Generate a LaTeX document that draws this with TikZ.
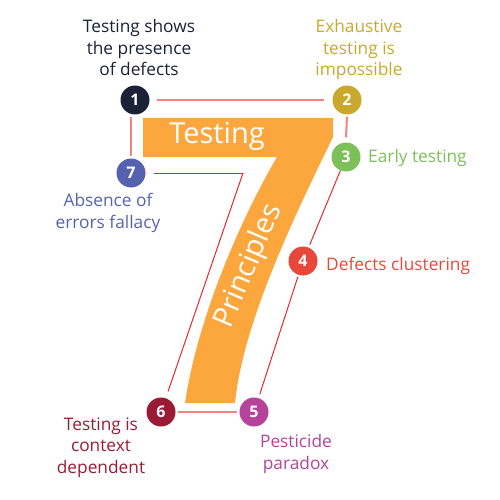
\documentclass[tikz,border=0pt]{standalone}
\usepackage{fontspec}
\setmainfont{Open Sans}
\usetikzlibrary{calc}
\definecolor{cOne}{HTML}{1B2238}
\definecolor{cTwo}{HTML}{C9A92C}
\definecolor{cThree}{HTML}{7CC05A}
\definecolor{cFour}{HTML}{E8483A}
\definecolor{cFive}{HTML}{B5439A}
\definecolor{cSix}{HTML}{9A1B33}
\definecolor{cSeven}{HTML}{5563AE}
\definecolor{cOrange}{HTML}{FCA63E}
\definecolor{cPink}{HTML}{F4847F}
\definecolor{cRed}{HTML}{E8262E}
\tikzset{
  numcirc/.style={circle, minimum size=29pt, inner sep=0pt, text=white, font=\fontsize{16}{16}\selectfont\bfseries},
  lbl/.style={align=center, inner sep=0pt, font=\fontsize{17.3}{21.5}\selectfont},
  pinkline/.style={draw=cPink, line width=2pt},
  redline/.style={draw=cRed, line width=1pt},
  bigtxt/.style={text=white, inner sep=0pt, font=\fontsize{29}{29}\selectfont}
}
\begin{document}
\begin{tikzpicture}[x=1pt,y=-1pt]
\useasboundingbox (0,0) rectangle (500,500);
% the seven
\fill[cOrange] (143,118) -- (333,118) -- (333,137)
  .. controls (300,205) and (243,320) .. (235,403)
  -- (185,403)
  .. controls (198,315) and (243,215) .. (277,157)
  -- (143,157) -- cycle;
\node[bigtxt, anchor=base] (tt) at (217,143) {Testing};
\node[bigtxt, rotate=67] (tp) at (249,266) {Principles};
% circles
\node[numcirc, fill=cOne] (n1) at (135,100) {1};
\node[numcirc, fill=cTwo] (n2) at (347,100) {2};
\node[numcirc, fill=cThree] (n3) at (346,157) {3};
\node[numcirc, fill=cFour] (n4) at (303,261) {4};
\node[numcirc, fill=cFive] (n5) at (254,412) {5};
\node[numcirc, fill=cSix] (n6) at (161,412) {6};
\node[numcirc, fill=cSeven] (n7) at (131,173) {7};
\coordinate (c7) at (243,173);
% connectors
\draw[pinkline, shorten <=7pt, shorten >=8pt] (n1) -- (n2);
\draw[pinkline] ($(n7.north)+(0,-2)$) -- ($(n7.north |- n1.south)+(0,2)$);
\draw[pinkline] ($(n2.south)+(0,2)$) -- ($(n3.north)+(0,-5)$);
\draw[pinkline, shorten <=2pt, shorten >=2pt] (n6) -- (n5);
\draw[redline, shorten <=8pt] (n7) -- (c7);
\draw[redline, shorten >=7pt] (c7) -- (n6);
\draw[redline, shorten >=3pt] (n3) -- (n4);
\draw[redline, shorten <=2pt, shorten >=4pt] (n4) -- (n5);
% labels (base anchor = baseline of the last line)
\node[lbl, text=cOne, anchor=base] (t1) at (139,76) {Testing shows\\the presence\\of defects};
\node[lbl, text=cTwo, anchor=base] (t2) at (359,76) {Exhaustive\\testing is\\impossible};
\node[lbl, text=cThree, anchor=base west] (t3) at (368,162) {Early testing};
\node[lbl, text=cFour, anchor=base west] (t4) at (326,270) {Defects clustering};
\node[lbl, text=cFive, anchor=base] (t5) at (296,469) {Pesticide\\paradox};
\node[lbl, text=cSix, anchor=base] (t6) at (101,473) {Testing is\\context\\dependent};
\node[lbl, text=cSeven, anchor=base] (t7) at (108,228) {Absence of\\errors fallacy};
\end{tikzpicture}
\end{document}
